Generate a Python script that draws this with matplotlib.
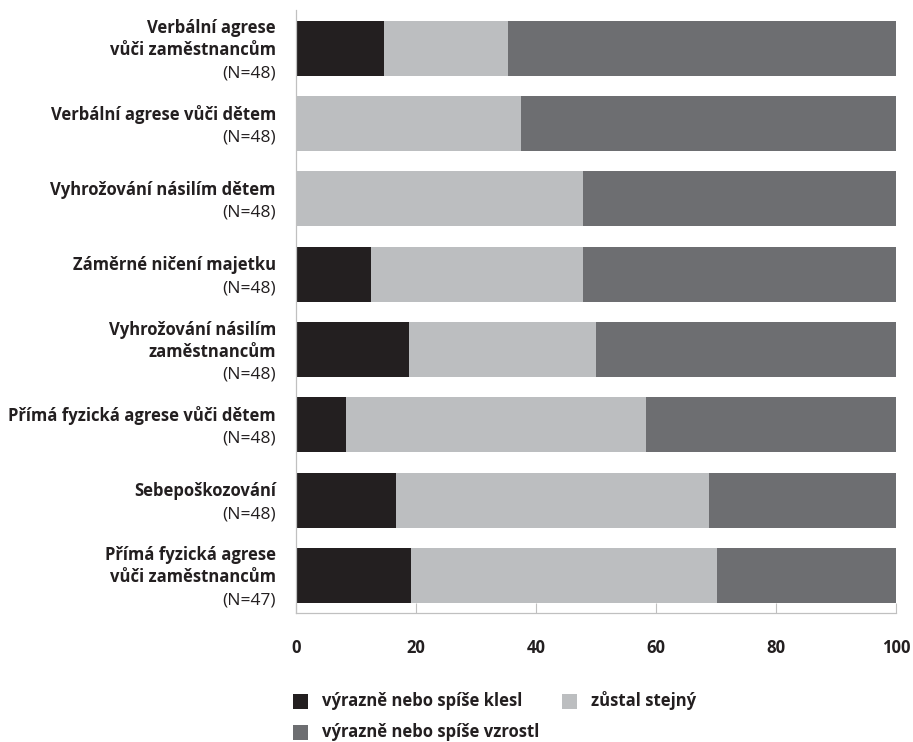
import matplotlib
matplotlib.use("Agg")
import matplotlib.pyplot as plt
import numpy as np
from matplotlib.patches import Rectangle

categories = [
    ["Verbální agrese", "vůči zaměstnancům"],
    ["Verbální agrese vůči dětem"],
    ["Vyhrožování násilím dětem"],
    ["Záměrné ničení majetku"],
    ["Vyhrožování násilím", "zaměstnancům"],
    ["Přímá fyzická agrese vůči dětem"],
    ["Sebepoškozování"],
    ["Přímá fyzická agrese", "vůči zaměstnancům"],
]
n_labels = ["(N=48)", "(N=48)", "(N=48)", "(N=48)", "(N=48)", "(N=48)", "(N=48)", "(N=47)"]

decreased = [14.6, 0.0, 0.0, 12.5, 18.75, 8.33, 16.67, 19.15]
same = [20.8, 37.5, 47.9, 35.4, 31.25, 50.0, 52.08, 51.06]
increased = [64.6, 62.5, 52.1, 52.1, 50.0, 41.67, 31.25, 29.79]

series_names = ["výrazně nebo spíše klesl", "zůstal stejný", "výrazně nebo spíše vzrostl"]
colors = ["#231f20", "#bcbec0", "#6d6e71"]
xticks = [0, 20, 40, 60, 80, 100]

plt.rcParams['font.family'] = ['Open Sans', 'DejaVu Sans']

W, H = 913, 742
fig = plt.figure(figsize=(W / 100, H / 100), dpi=100)
ax = fig.add_axes([296 / W, 1 - 613 / H, (896 - 296) / W, (613 - 10) / H])

y = np.arange(len(categories))
left = np.zeros(len(categories))
for vals, col in zip([decreased, same, increased], colors):
    ax.barh(y, vals, left=left, height=0.73, color=col, edgecolor='none')
    left = left + np.array(vals)

ax.set_xlim(0, 100)
ax.set_ylim(7.5, -0.51)
ax.set_yticks([])
ax.set_xticks(xticks)
ax.set_xticklabels([str(t) for t in xticks], fontsize=12, fontweight='bold', color='#231f20')
ax.tick_params(axis='x', direction='in', length=7, width=0.8, color='#c0c0c0', pad=19)
for s in ['top', 'right']:
    ax.spines[s].set_visible(False)
for s in ['left', 'bottom']:
    ax.spines[s].set_color('#c0c0c0')
    ax.spines[s].set_linewidth(0.9)

line_px = 22
for i, (lines, nl) in enumerate(zip(categories, n_labels)):
    all_lines = lines + [nl]
    k = len(all_lines)
    for j, txt in enumerate(all_lines):
        down_px = (j - (k - 1) / 2) * line_px + 1.5 + 5.5
        bold = j < len(lines)
        ax.annotate(txt, xy=(0, i), xycoords=('axes fraction', 'data'),
                    xytext=(-14.5, -down_px * 0.72), textcoords='offset points',
                    ha='right', va='baseline', fontsize=12 if bold else 12.5,
                    fontweight='bold' if bold else 'normal', color='#231f20')

# legend (manual layout: two items on first row, one on second)
leg_items = [(0, 293, 701), (1, 562, 701), (2, 293, 732)]
for idx, xpx, ypx in leg_items:
    sq = 15
    fig.patches.append(Rectangle((xpx / W, 1 - (ypx + sq / 2) / H), sq / W, sq / H,
                                 transform=fig.transFigure, facecolor=colors[idx],
                                 edgecolor='none'))
    fig.text((xpx + 29) / W, 1 - ypx / H, series_names[idx], ha='left', va='center',
             fontsize=12, fontweight='bold', color='#231f20')

fig.savefig("out.png", dpi=100)
